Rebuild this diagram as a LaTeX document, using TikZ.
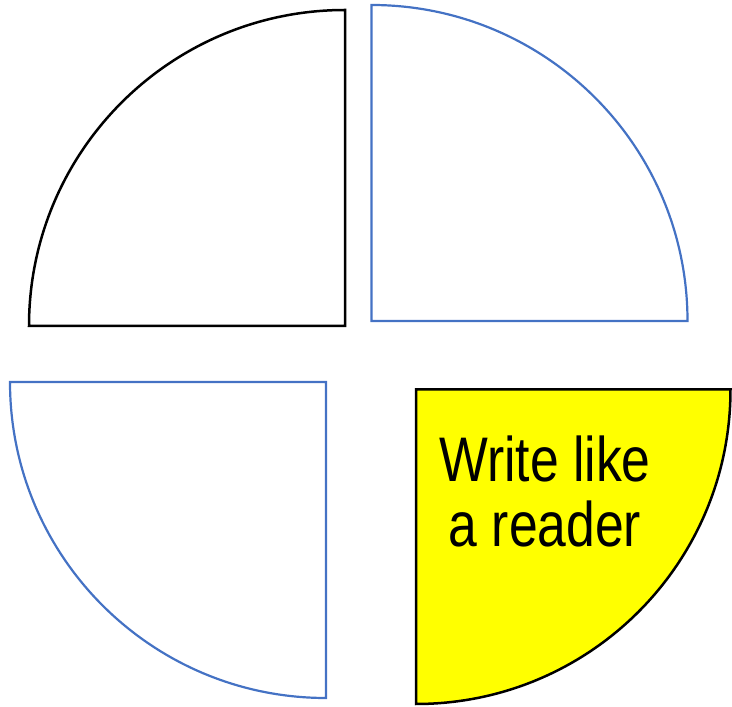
\documentclass[tikz,border=0pt]{standalone}
\usepackage{fontspec}
\newfontfamily\narrowfont[FakeStretch=0.82]{Liberation Sans}
\definecolor{officeblue}{HTML}{4472C4}
\definecolor{pureyellow}{RGB}{255,255,0}
\tikzset{
  quarterblack/.style={draw=black, line width=2.5pt, line join=miter},
  quarterblue/.style={draw=officeblue, line width=2.2pt, line join=miter},
  quarteryellow/.style={draw=black, fill=pureyellow, line width=2.5pt, line join=miter},
  bigtext/.style={font=\narrowfont\fontsize{63}{65}\selectfont, align=center, inner sep=0pt}
}
\begin{document}
\begin{tikzpicture}[x=1pt,y=1pt]
\useasboundingbox (0,0) rectangle (732,707);
% top-left (black)
\draw[quarterblack] (345,381) -- (29,381) arc[start angle=180,end angle=90,radius=316] -- cycle;
% top-right (blue)
\draw[quarterblue] (371.5,386) -- (371.5,702) arc[start angle=90,end angle=0,radius=316] -- cycle;
% bottom-left (blue)
\draw[quarterblue] (326,325) -- (10,325) arc[start angle=180,end angle=270,radius=316] -- cycle;
% bottom-right (yellow)
\draw[quarteryellow] (416,317.5) -- (730.5,317.5) arc[start angle=0,end angle=-90,radius=314.5] -- cycle;
\node[bigtext, anchor=base] (label) at (545,160.3) {Write like\\a reader};
\end{tikzpicture}
\end{document}
